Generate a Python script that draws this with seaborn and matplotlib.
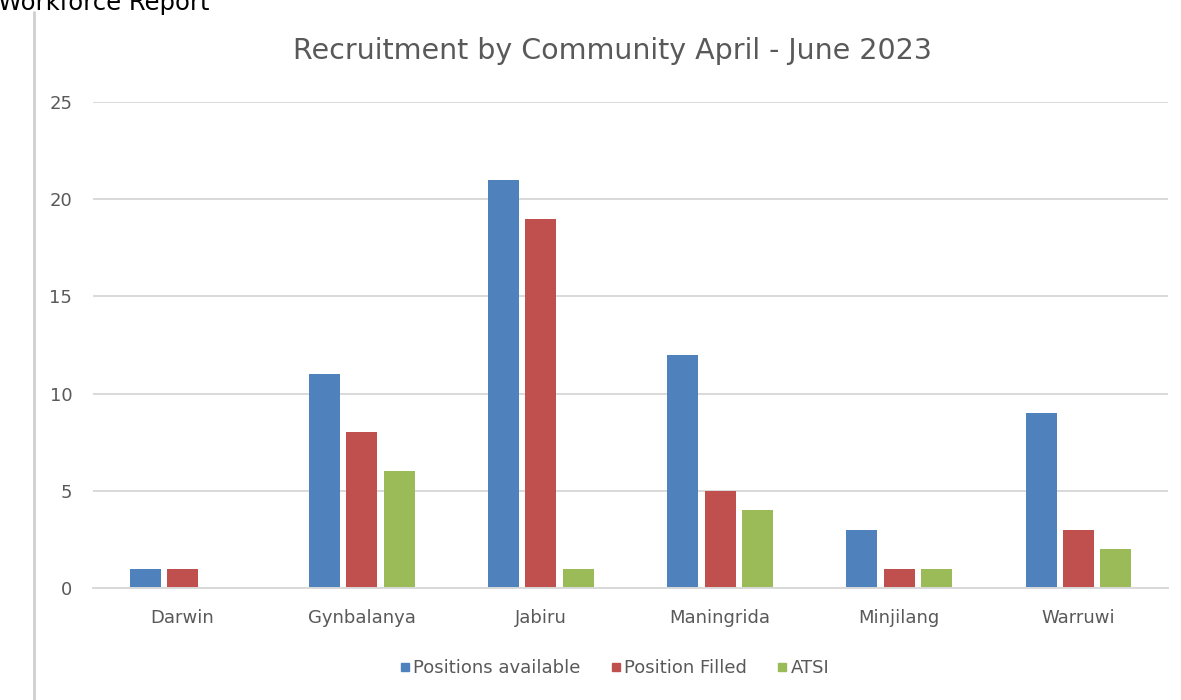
import matplotlib
matplotlib.use("Agg")
import matplotlib.pyplot as plt
import seaborn as sns
import pandas as pd
from matplotlib.lines import Line2D

communities = ["Darwin", "Gynbalanya", "Jabiru", "Maningrida", "Minjilang", "Warruwi"]
positions_available = [1, 11, 21, 12, 3, 9]
positions_filled = [1, 8, 19, 5, 1, 3]
atsi = [0, 6, 1, 4, 1, 2]
series_names = ["Positions available", "Position Filled", "ATSI"]
series_colors = ["#4F81BD", "#C0504D", "#9BBB59"]
y_ticks = [0, 5, 10, 15, 20, 25]

sns.set_style("white")
plt.rcParams["font.family"] = ["DejaVu Sans"]

rows = []
for name, values in zip(series_names, [positions_available, positions_filled, atsi]):
    for c, v in zip(communities, values):
        rows.append({"Community": c, "Series": name, "Count": v})
df = pd.DataFrame(rows)

fig = plt.figure(figsize=(11.81, 7.0), dpi=100)
ax = fig.add_axes([93 / 1181, 1 - 588 / 700, 1075 / 1181, 486 / 700])

sns.barplot(data=df, x="Community", y="Count", hue="Series",
            hue_order=series_names, palette=series_colors,
            width=0.625, gap=0.17, ax=ax, legend=False,
            saturation=1, edgecolor="none")

ax.set_ylim(0, 25)
ax.set_xlim(-0.5, len(communities) - 0.5)
ax.set_yticks(y_ticks)
ax.yaxis.grid(True, color="#d9d9d9", linewidth=1.4)
ax.set_axisbelow(True)
for s in ["top", "right", "left"]:
    ax.spines[s].set_visible(False)
ax.spines["bottom"].set_color("#d9d9d9")
ax.spines["bottom"].set_linewidth(1.4)
ax.tick_params(axis="both", length=0, colors="#595959", labelsize=13)
ax.tick_params(axis="y", pad=15)
ax.tick_params(axis="x", pad=15)
ax.set_xlabel("")
ax.set_ylabel("")

fig.text(612 / 1181, 1 - 51 / 700, "Recruitment by Community April - June 2023",
         ha="center", va="center", fontsize=20.5, color="#595959")

fig.text(-0.002, 1 - 10 / 700, "Workforce Report", ha="left", va="baseline",
         fontsize=17.5, color="#000000")

fig.add_artist(Line2D([34 / 1181, 34 / 1181], [0, 1 - 12 / 700],
                      transform=fig.transFigure, color="#cfcfcf", linewidth=2))

handles = [Line2D([], [], marker="s", linestyle="none", markersize=6,
                  markerfacecolor=c, markeredgecolor=c) for c in series_colors]
fig.legend(handles, series_names, loc="center", ncol=3,
           bbox_to_anchor=(615 / 1181, 1 - 668 / 700), frameon=False,
           fontsize=13, labelcolor="#595959", handletextpad=0.2,
           columnspacing=1.7, handlelength=0.5)

fig.savefig("out.png", dpi=100)
